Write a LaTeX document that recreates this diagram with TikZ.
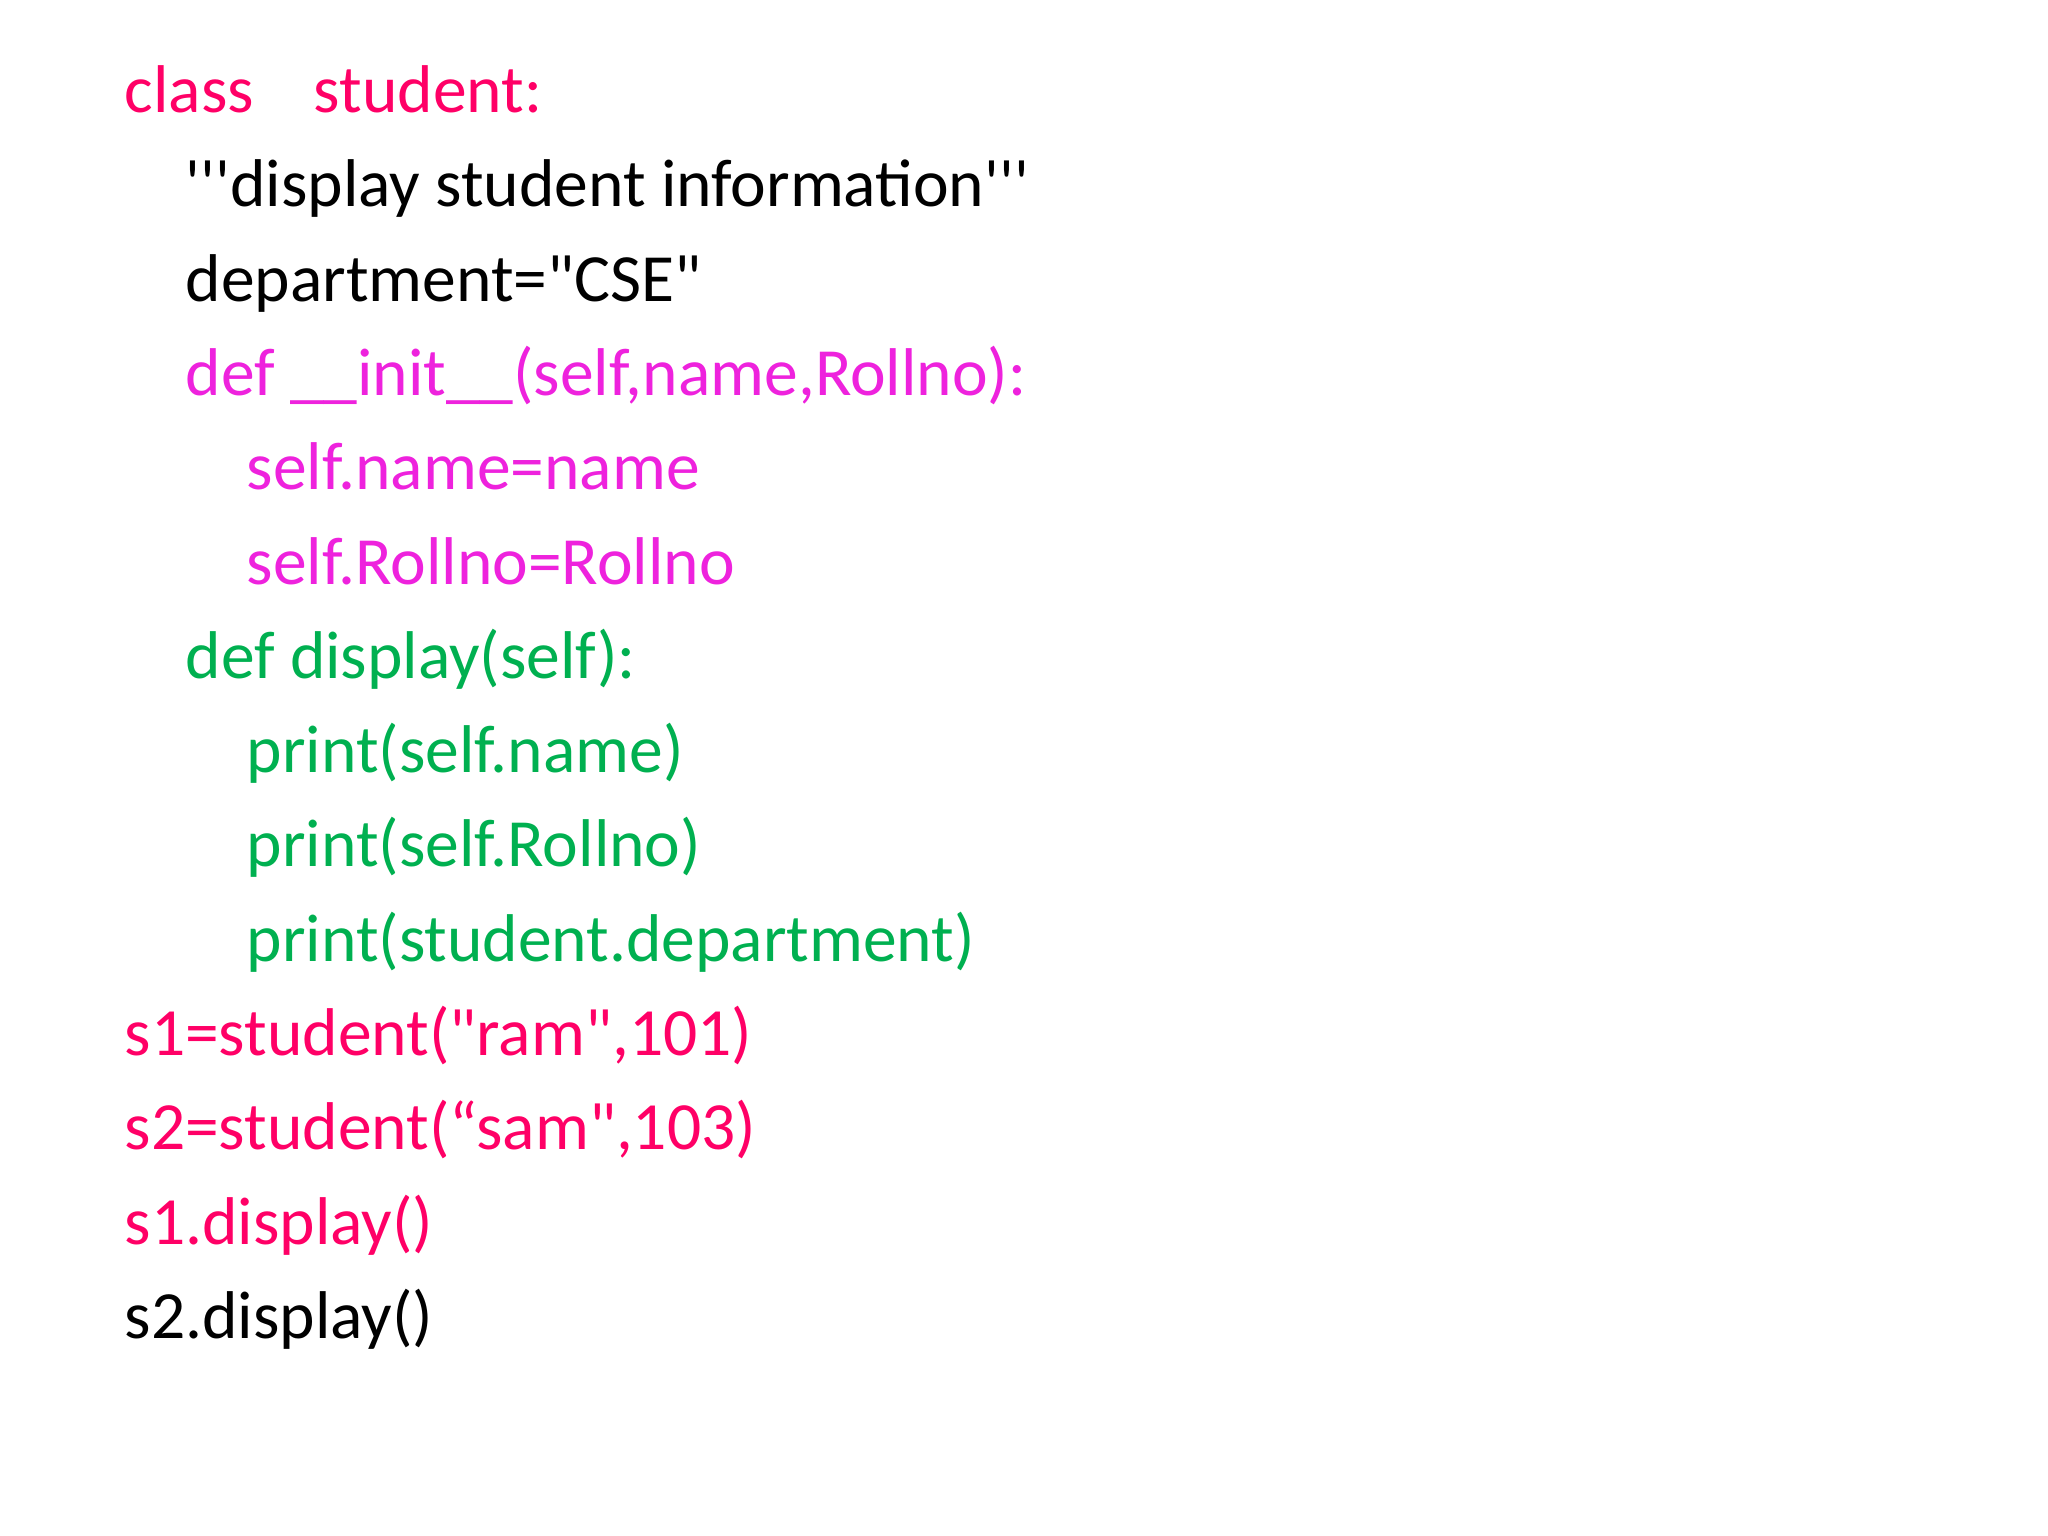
\documentclass[tikz,border=0pt]{standalone}
\usepackage{fontspec}
\newfontfamily\codefont{Carlito}
\definecolor{classpink}{RGB}{255, 0, 102}
\definecolor{initpink}{RGB}{238, 34, 221}
\definecolor{displaygreen}{RGB}{0, 176, 80}
\tikzset{
    codeline/.style={anchor=base west, inner sep=0pt,
        font=\codefont\fontsize{19.2}{23}\selectfont},
}

\begin{document}
\begin{tikzpicture}[x=0.01cm, y=-0.01cm]
    \useasboundingbox (0, 0) rectangle (2048, 1536);
    \node[codeline, classpink] (cls) at (124, 112) {class\hspace{.6cm}student:};
    \node[codeline] (doc) at (185, 206) {'''display student information'''};
    \node[codeline] (dept) at (185, 301) {department="CSE"};
    \node[codeline, initpink] (init) at (185, 395)
        {def \_\_init\_\_(self,name,Rollno):};
    \node[codeline, initpink] (selfname) at (246, 489) {self.name=name};
    \node[codeline, initpink] (selfroll) at (246, 584) {self.Rollno=Rollno};
    \node[codeline, displaygreen] (disp) at (185, 678) {def display(self):};
    \node[codeline, displaygreen] (prname) at (246, 772) {print(self.name)};
    \node[codeline, displaygreen] (prroll) at (246, 866) {print(self.Rollno)};
    \node[codeline, displaygreen] (prdept) at (246, 961)
        {print(student.department)};
    \node[codeline, classpink] (sone) at (124, 1055) {s1=student("ram",101)};
    \node[codeline, classpink] (stwo) at (124, 1149) {s2=student(“sam",103)};
    \node[codeline, classpink] (sonedisp) at (124, 1244) {s1.display()};
    \node[codeline] (stwodisp) at (124, 1338) {s2.display()};
\end{tikzpicture}
\end{document}
